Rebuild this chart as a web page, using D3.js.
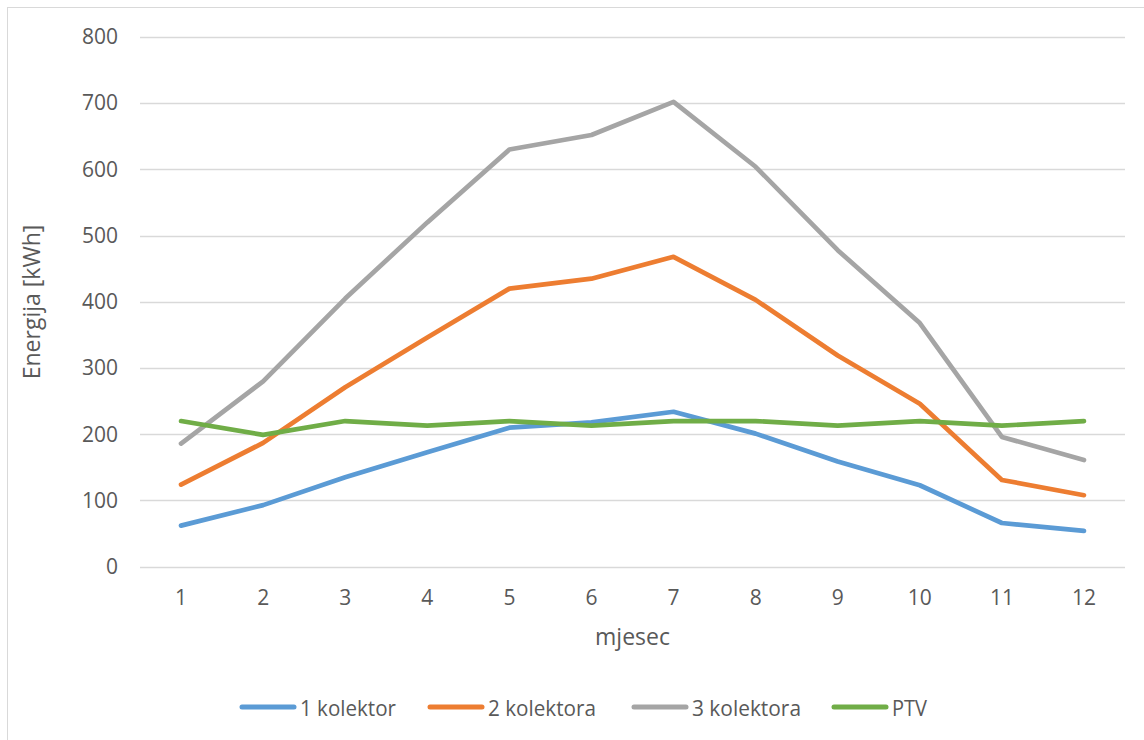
<!DOCTYPE html>
<html><head><meta charset="utf-8">
<script src="https://cdn.jsdelivr.net/npm/d3@7"></script>
<style>body{margin:0;background:#fff}svg{display:block}text{font-family:"Open Sans",sans-serif;fill:#595959}</style>
</head><body><svg id="c" width="1144" height="740"></svg>
<script>
const months = [1,2,3,4,5,6,7,8,9,10,11,12];
const kolektor1 = [62, 93, 135, 173, 210, 218, 234, 201, 159, 123, 66, 54];
const kolektora2 = [124, 187, 271, 346, 420, 435, 468, 403, 319, 246, 131, 108];
const kolektora3 = [186, 280, 405, 520, 630, 652, 702, 604, 478, 368, 196, 161];
const ptv = [220, 199, 220, 213, 220, 213, 220, 220, 213, 220, 213, 220];
const yTicks = [0,100,200,300,400,500,600,700,800];
const seriesNames = ["1 kolektor","2 kolektora","3 kolektora","PTV"];
const colors = ["#5B9BD5","#ED7D31","#A5A5A5","#70AD47"];
const seriesData = [kolektor1, kolektora2, kolektora3, ptv];

const svg = d3.select("#c");
svg.append("rect").attr("x",7.5).attr("y",7.5).attr("width",1150).attr("height",750)
  .attr("fill","#fff").attr("stroke","#D9D9D9").attr("stroke-width",1);

const x = d3.scaleBand().domain(months).range([140,1125]);
const y = d3.scaleLinear().domain([0,800]).range([566.7,37]);

// gridlines
svg.append("g").selectAll("line").data(yTicks).join("line")
  .attr("x1",140).attr("x2",1125).attr("y1",d=>Math.round(y(d))+0.5).attr("y2",d=>Math.round(y(d))+0.5)
  .attr("stroke","#D9D9D9").attr("stroke-width",1.3);

// y axis labels
const yAxis = d3.axisLeft(y).tickValues(yTicks).tickSize(0).tickPadding(0);
const gy = svg.append("g").attr("transform","translate(118,0)").call(yAxis);
gy.select(".domain").remove();
gy.selectAll("text").style("font-size","21px").attr("fill","#595959").attr("font-family","Open Sans");

// x axis labels
const xAxis = d3.axisBottom(x).tickSize(0).tickPadding(0);
const gx = svg.append("g").attr("transform","translate(0,590)").call(xAxis);
gx.select(".domain").remove();
gx.selectAll("text").style("font-size","21px").attr("fill","#595959").attr("font-family","Open Sans");

// axis titles
svg.append("text").attr("x",x(6)+x.bandwidth()).attr("y",645).attr("text-anchor","middle")
  .style("font-size","23px").text("mjesec");
svg.append("text").attr("transform","translate(40,302) rotate(-90)").attr("text-anchor","middle")
  .style("font-size","23px").text("Energija [kWh]");

// lines
const line = d3.line().x((d,i)=>x(months[i])+x.bandwidth()/2).y(d=>y(d));
seriesData.forEach((s,k)=>{
  svg.append("path").datum(s).attr("d",line).attr("fill","none")
    .attr("stroke",colors[k]).attr("stroke-width",4.7)
    .attr("stroke-linejoin","round").attr("stroke-linecap","round");
});

// legend
const legX = [242,430,634,834];
const legW = [96,108,109,35];
const lg = svg.append("g");
seriesNames.forEach((n,k)=>{
  lg.append("line").attr("x1",legX[k]).attr("x2",legX[k]+52).attr("y1",707).attr("y2",707)
    .attr("stroke",colors[k]).attr("stroke-width",5).attr("stroke-linecap","round");
  lg.append("text").attr("x",legX[k]+58).attr("y",716).style("font-size","22px")
    .attr("textLength",legW[k]).attr("lengthAdjust","spacingAndGlyphs").text(n);
});
</script></body></html>
